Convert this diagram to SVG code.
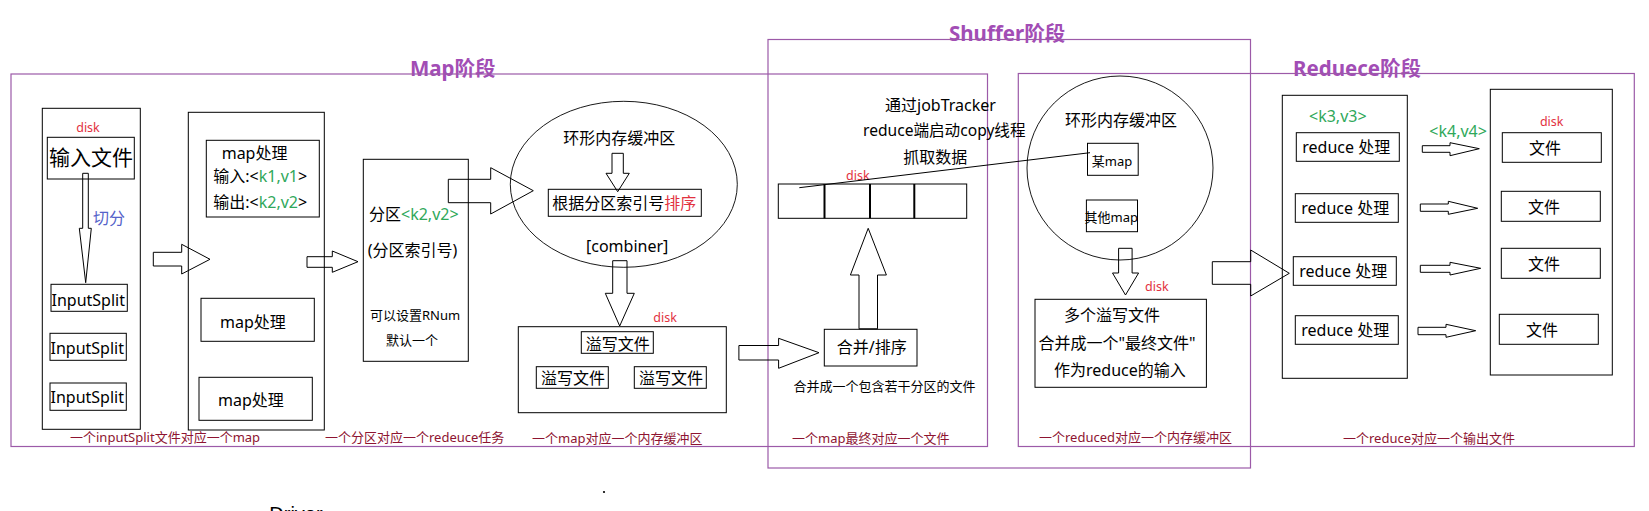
<svg xmlns="http://www.w3.org/2000/svg" width="1649" height="511" viewBox="0 0 1649 511">
<style>
.t{font-family:"Noto Sans","Noto Sans CJK SC",sans-serif;font-size:16px;fill:#000}
.s13{font-size:13px}
.disk{fill:#e2323f;font-size:12.5px}
.g{fill:#2fa85a}
.r{fill:#e2323f}
.b{fill:#5563c9}
.foot{fill:#8e1431;font-size:13px}
.title{font-weight:bold;font-size:20.5px;fill:#a24db5}
.box{fill:none;stroke:#000;stroke-width:1}
.frame{fill:none;stroke:#9c5aa8;stroke-width:1.2}
.ar{fill:none;stroke:#000;stroke-width:1}
.ell{fill:none;stroke:#000;stroke-width:0.9}
</style>
<rect width="1649" height="511" fill="#fff"/>

<g id="frames">
<text class="t title" x="410" y="76">Map阶段</text>
<text class="t title" x="949" y="41">Shuffer阶段</text>
<text class="t title" x="1293" y="76">Reduece阶段</text>
<rect id="map-frame" class="frame" x="11" y="74" width="976.5" height="372.5"/>
<rect id="shuffer-frame" class="frame" x="768" y="39.5" width="482.5" height="428.5"/>
<rect id="reduce-frame" class="frame" x="1018.3" y="73.5" width="616" height="373"/>
</g>

<g id="footers">
<text class="t foot" x="70" y="442">一个inputSplit文件对应一个map</text>
<text class="t foot" x="325" y="442">一个分区对应一个redeuce任务</text>
<text class="t foot" x="532" y="443">一个map对应一个内存缓冲区</text>
<text class="t foot" x="792" y="443">一个map最终对应一个文件</text>
<text class="t foot" x="1039" y="442">一个reduced对应一个内存缓冲区</text>
<text class="t foot" x="1343" y="443">一个reduce对应一个输出文件</text>
</g>

<g id="input-column">
<rect class="box" x="42.3" y="108.3" width="98" height="321"/>
<text class="t disk" x="88" y="132" text-anchor="middle">disk</text>
<rect class="box" x="47.3" y="137.3" width="87" height="41.7"/>
<text class="t" x="49" y="165" style="font-size:21px">输入文件</text>
<text class="t b" x="93" y="224">切分</text>
</g>

<g id="inputsplit-1">
<rect class="box" x="51" y="284.3" width="76.3" height="27"/>
<text class="t" x="51.5" y="305.7">InputSplit</text>
</g>
<g id="inputsplit-2">
<rect class="box" x="50" y="333.3" width="76.3" height="27"/>
<text class="t" x="50.5" y="354">InputSplit</text>
</g>
<g id="inputsplit-3">
<rect class="box" x="50" y="383" width="76.3" height="27.3"/>
<text class="t" x="50.5" y="403.3">InputSplit</text>
</g>

<g id="map-column">
<rect class="box" x="188.3" y="112.3" width="136" height="317.7"/>
</g>
<g id="map-1">
<rect class="box" x="206.3" y="140.3" width="113" height="76.7"/>
<text class="t" x="221.7" y="159">map处理</text>
<text class="t" x="213.3" y="182">输入:&lt;<tspan class="g">k1,v1</tspan>&gt;</text>
<text class="t" x="213.3" y="207.5">输出:&lt;<tspan class="g">k2,v2</tspan>&gt;</text>
</g>
<g id="map-2">
<rect class="box" x="201" y="298.3" width="113.3" height="43"/>
<text class="t" x="220" y="327.5">map处理</text>
</g>
<g id="map-3">
<rect class="box" x="199" y="377.3" width="113.3" height="43"/>
<text class="t" x="218" y="406">map处理</text>
</g>

<g id="partition">
<rect class="box" x="363.3" y="159.3" width="105" height="202"/>
<text class="t" x="369" y="219.5">分区<tspan class="g">&lt;k2,v2&gt;</tspan></text>
<text class="t" x="367.7" y="256">(分区索引号)</text>
<text class="t s13" x="370" y="320">可以设置RNum</text>
<text class="t s13" x="386" y="344.5">默认一个</text>
</g>

<g id="ring-buffer">
<ellipse class="ell" cx="623.8" cy="184.3" rx="113.5" ry="83"/>
<text class="t" x="563.3" y="144">环形内存缓冲区</text>
<text class="t" x="586" y="252">[combiner]</text>
</g>
<g id="sort">
<rect class="box" x="548.3" y="189.3" width="153" height="27"/>
<text class="t" x="552.3" y="209">根据分区索引号<tspan class="r">排序</tspan></text>
</g>

<g id="spill">
<text class="t disk" x="653.3" y="321.5">disk</text>
<rect class="box" x="518.3" y="326.7" width="208" height="86"/>
<rect class="box" x="581.3" y="331.7" width="72" height="21.6"/>
<text class="t" x="585.7" y="349.5">溢写文件</text>
<rect class="box" x="536.3" y="366.7" width="72" height="21.6"/>
<text class="t" x="541" y="383.5">溢写文件</text>
<rect class="box" x="634.3" y="366.7" width="72" height="21.6"/>
<text class="t" x="639" y="383.5">溢写文件</text>
</g>

<g id="shuffle-text">
<text class="t" x="885" y="110.5">通过jobTracker</text>
<text class="t" x="863" y="136" style="font-size:15.6px">reduce端启动copy线程</text>
<text class="t" x="903.3" y="163">抓取数据</text>
</g>

<g id="partition-files">
<text class="t disk" x="846" y="179.5">disk</text>
<rect class="box" x="778.3" y="184" width="188.4" height="34.3"/>
<line x1="824.5" y1="184" x2="824.5" y2="218.3" stroke="#000" stroke-width="2"/>
<line x1="870" y1="184" x2="870" y2="218.3" stroke="#000" stroke-width="2"/>
<line x1="914.3" y1="184" x2="914.3" y2="218.3" stroke="#000" stroke-width="2"/>
</g>

<g id="merge">
<rect class="box" x="824.3" y="329.3" width="92.7" height="36.7"/>
<text class="t" x="836.8" y="353">合并/排序</text>
<text class="t s13" x="793.6" y="390.5">合并成一个包含若干分区的文件</text>
</g>

<g id="reduce-buffer">
<ellipse class="ell" cx="1120" cy="168" rx="93" ry="92"/>
<text class="t" x="1065" y="126">环形内存缓冲区</text>
<rect class="box" x="1087.5" y="143.3" width="50.7" height="32"/>
<text class="t s13" x="1091.8" y="165.8">某map</text>
<rect class="box" x="1086.4" y="200" width="51.1" height="31.7"/>
<text class="t s13" x="1084.5" y="222">其他map</text>
</g>

<g id="final-file">
<text class="t disk" x="1145" y="291">disk</text>
<rect class="box" x="1035" y="299.3" width="171.4" height="88"/>
<text class="t" x="1064" y="321">多个溢写文件</text>
<text class="t" x="1038.6" y="348.5">合并成一个"最终文件"</text>
<text class="t" x="1054" y="375.5">作为reduce的输入</text>
</g>

<g id="reduce-column">
<rect class="box" x="1282.3" y="95.3" width="125" height="283"/>
<text class="t g" x="1309" y="121.5">&lt;k3,v3&gt;</text>
</g>
<g id="reduce-1">
<rect class="box" x="1296.3" y="132.7" width="103" height="28.6"/>
<text class="t" x="1302.3" y="153">reduce 处理</text>
</g>
<g id="reduce-2">
<rect class="box" x="1295.3" y="193.7" width="103" height="28.6"/>
<text class="t" x="1301.3" y="214">reduce 处理</text>
</g>
<g id="reduce-3">
<rect class="box" x="1293.3" y="256.7" width="103" height="28.6"/>
<text class="t" x="1299.3" y="277">reduce 处理</text>
</g>
<g id="reduce-4">
<rect class="box" x="1295.3" y="315.7" width="103" height="28.6"/>
<text class="t" x="1301.3" y="336">reduce 处理</text>
</g>

<text class="t g" x="1429.3" y="136.5">&lt;k4,v4&gt;</text>

<g id="output-column">
<rect class="box" x="1490.3" y="89.3" width="122" height="285.7"/>
<text class="t disk" x="1551.7" y="125.5" text-anchor="middle">disk</text>
</g>
<g id="file-1">
<rect class="box" x="1502.3" y="132.7" width="99" height="29.6"/>
<text class="t" x="1529" y="154">文件</text>
</g>
<g id="file-2">
<rect class="box" x="1501.3" y="191.3" width="99" height="30"/>
<text class="t" x="1528" y="213">文件</text>
</g>
<g id="file-3">
<rect class="box" x="1501.3" y="248.3" width="99" height="30"/>
<text class="t" x="1528" y="269.5">文件</text>
</g>
<g id="file-4">
<rect class="box" x="1499.3" y="314.3" width="99" height="30"/>
<text class="t" x="1526" y="335.5">文件</text>
</g>

<g id="connectors">
<polygon class="ar" points="82.7,173.3 88.3,173.3 88.3,228.3 91.3,228.3 85.7,282.7 79.3,228.3 82.7,228.3"/>
<polygon class="ar" points="153.3,252.3 181.7,252.3 181.7,244.3 210,259.3 181.7,274 181.7,266 153.3,266"/>
<polygon class="ar" points="307,256.7 332.3,256.7 332.3,251 358,261.7 332.3,272.3 332.3,267.3 307,267.3"/>
<polygon class="ar" points="448.3,179.3 490.7,179.3 490.7,167.7 533.3,190.7 490.7,214 490.7,202.7 448.3,202.7"/>
<polygon class="ar" points="612,153.3 623.3,153.3 623.3,173.3 629.3,173.3 617.7,191.7 606,173.3 612,173.3"/>
<polygon class="ar" points="612.7,260.7 627,260.7 627,293.3 634.3,293.3 619.7,326 605.3,293.3 612.7,293.3"/>
<polygon class="ar" points="738.9,345.5 778.6,345.5 778.6,338.3 819,352.7 778.6,368.3 778.6,360 738.9,360"/>
<polygon class="ar" points="859,328.8 877.5,328.8 877.5,275 886.4,275 868.2,228.3 850.4,275 859,275"/>
<line x1="799.3" y1="187.7" x2="1090" y2="152.7" stroke="#000" stroke-width="1"/>
<polygon class="ar" points="1118.6,248.3 1132.1,248.3 1132.1,273 1138.6,273 1125.5,295 1112.5,273 1118.6,273"/>
<polygon class="ar" points="1212.3,261.7 1250.7,261.7 1250.7,250 1289.3,273.3 1250.7,296 1250.7,284.3 1212.3,284.3"/>
<polygon class="ar" points="1422.3,145.7 1450,145.7 1450,142.7 1479.3,148.7 1450,155.7 1450,152.3 1422.3,152.3"/>
<polygon class="ar" points="1420.3,204 1448.3,204 1448.3,201.3 1477.7,208.3 1448.3,214.3 1448.3,211.3 1420.3,211.3"/>
<polygon class="ar" points="1420.3,265.3 1450,265.3 1450,262.3 1480.7,268.3 1450,275 1450,272.3 1420.3,272.3"/>
<polygon class="ar" points="1418,327.3 1446,327.3 1446,324.3 1475.7,330.7 1446,337.3 1446,334.7 1418,334.7"/>
</g>

<text x="269.3" y="521" style="font-family:'Liberation Sans',sans-serif;font-size:20px;fill:#000">Driver</text>
<circle cx="604" cy="492" r="1.1" fill="#000"/>
</svg>
